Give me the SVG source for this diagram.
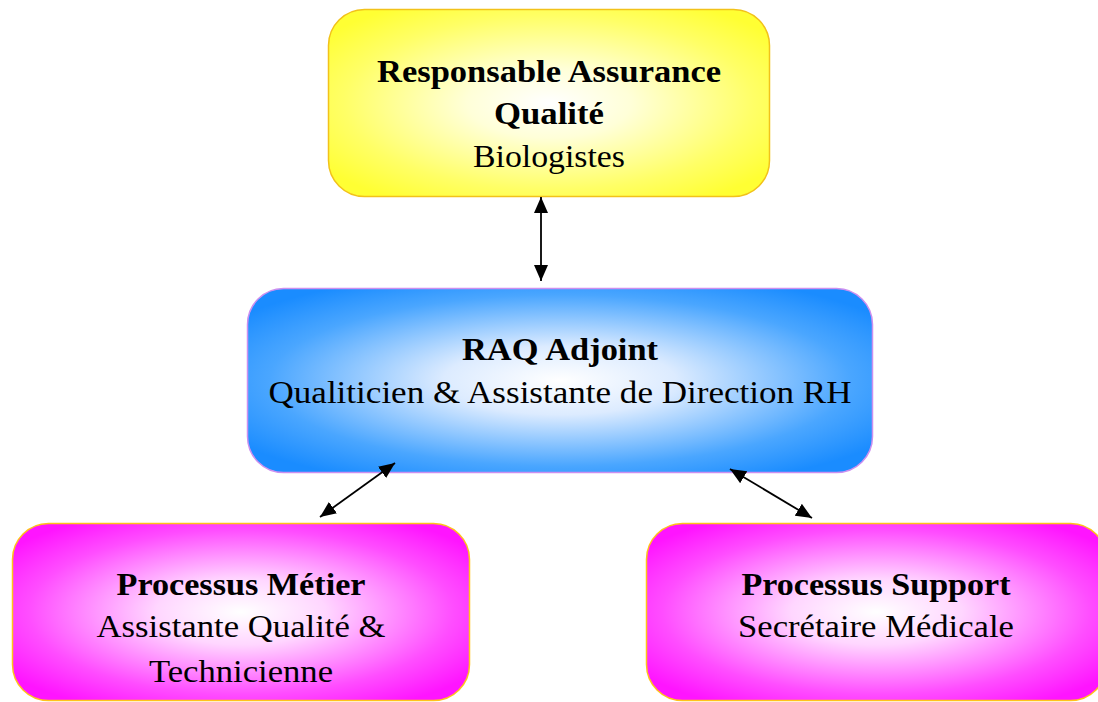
<svg xmlns="http://www.w3.org/2000/svg" width="1098" height="702" viewBox="0 0 1098 702">
  <defs>
    <radialGradient id="gYellow" cx="0.5" cy="0.5" r="0.62">
      <stop offset="0" stop-color="#ffffff"/>
      <stop offset="0.3" stop-color="#ffffd8"/>
      <stop offset="0.75" stop-color="#ffff66"/>
      <stop offset="1" stop-color="#ffff33"/>
    </radialGradient>
    <radialGradient id="gBlue" cx="0.5" cy="0.5" r="0.62">
      <stop offset="0" stop-color="#ffffff"/>
      <stop offset="0.3" stop-color="#dcebff"/>
      <stop offset="0.75" stop-color="#4aa6ff"/>
      <stop offset="1" stop-color="#1a8cff"/>
    </radialGradient>
    <radialGradient id="gMagenta" cx="0.5" cy="0.5" r="0.62">
      <stop offset="0" stop-color="#ffffff"/>
      <stop offset="0.3" stop-color="#ffd6ff"/>
      <stop offset="0.75" stop-color="#ff4dff"/>
      <stop offset="1" stop-color="#ff14ff"/>
    </radialGradient>
    <marker id="head" viewBox="0 0 16 14" refX="16" refY="7" markerWidth="16" markerHeight="14" markerUnits="userSpaceOnUse" orient="auto-start-reverse">
      <path d="M0,0 L16,7 L0,14 Z" fill="#000"/>
    </marker>
    <style>
      .box { stroke-width: 1.5; }
      .t { font-family: "Liberation Serif", "DejaVu Serif", serif; font-size: 32px; fill: #000; text-anchor: middle; }
      .b { font-weight: bold; }
      .link { stroke: #000; stroke-width: 1.8; fill: none; marker-start: url(#head); marker-end: url(#head); }
    </style>
  </defs>

  <!-- quality manager -->
  <g id="rqa">
    <rect class="box" x="328.5" y="9.5" width="441" height="187" rx="36" fill="url(#gYellow)" stroke="#f2c21a"/>
    <text class="t b" x="549" y="82" textLength="344" lengthAdjust="spacingAndGlyphs">Responsable Assurance</text>
    <text class="t b" x="549" y="124" textLength="110" lengthAdjust="spacingAndGlyphs">Qualité</text>
    <text class="t" x="549" y="167" textLength="152" lengthAdjust="spacingAndGlyphs">Biologistes</text>
  </g>

  <!-- deputy -->
  <g id="raq-adjoint">
    <rect class="box" x="247.5" y="288.5" width="625" height="184" rx="36" fill="url(#gBlue)" stroke="#cc8ff0"/>
    <text class="t b" x="560" y="360" textLength="196" lengthAdjust="spacingAndGlyphs">RAQ Adjoint</text>
    <text class="t" x="560" y="403" textLength="583" lengthAdjust="spacingAndGlyphs">Qualiticien &amp; Assistante de Direction RH</text>
  </g>

  <!-- core process -->
  <g id="processus-metier">
    <rect class="box" x="12.5" y="523.5" width="457" height="177" rx="36" fill="url(#gMagenta)" stroke="#ffc21a"/>
    <text class="t b" x="241" y="595" textLength="249" lengthAdjust="spacingAndGlyphs">Processus Métier</text>
    <text class="t" x="241" y="637" textLength="289" lengthAdjust="spacingAndGlyphs">Assistante Qualité &amp;</text>
    <text class="t" x="241" y="682" textLength="184" lengthAdjust="spacingAndGlyphs">Technicienne</text>
  </g>

  <!-- support process -->
  <g id="processus-support">
    <rect class="box" x="646.5" y="523.5" width="460" height="177" rx="36" fill="url(#gMagenta)" stroke="#ffc21a"/>
    <text class="t b" x="876" y="595" textLength="269" lengthAdjust="spacingAndGlyphs">Processus Support</text>
    <text class="t" x="876" y="637" textLength="276" lengthAdjust="spacingAndGlyphs">Secrétaire Médicale</text>
  </g>

  <!-- connectors, drawn over the boxes so the heads stay visible -->
  <g id="connectors">
    <line class="link" x1="541" y1="197" x2="541" y2="281"/>
    <line class="link" x1="395" y1="463" x2="320" y2="517"/>
    <line class="link" x1="730" y1="469" x2="812" y2="518"/>
  </g>
</svg>
